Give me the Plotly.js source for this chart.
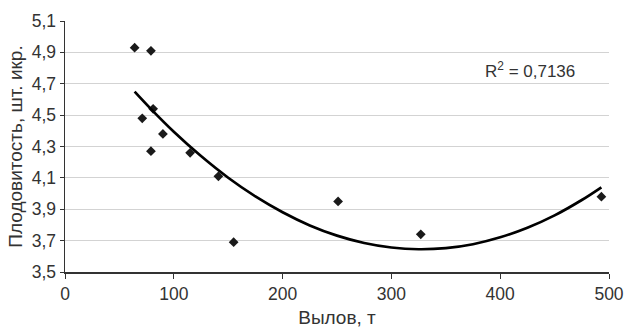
<!DOCTYPE html>
<html>
<head>
<meta charset="utf-8">
<script src="https://cdn.plot.ly/plotly-3.0.1.min.js"></script>
<style>html,body{margin:0;padding:0;background:#fff;}#chart{width:626px;height:329px;}</style>
</head>
<body>
<div id="chart"></div>
<script>
// Observed points: catch (t) vs fecundity
const catchX = [64, 79, 81, 71, 90, 79, 115, 141, 155, 251, 327, 493];
const fecundity = [4.93, 4.91, 4.54, 4.48, 4.38, 4.27, 4.26, 4.11, 3.69, 3.95, 3.74, 3.98];
// Polynomial trend line
const trendX = [64, 80, 100, 125, 150, 175, 200, 225, 250, 275, 300, 325, 350, 375, 400, 425, 450, 475, 493];
const trendY = [4.650, 4.532, 4.394, 4.239, 4.101, 3.982, 3.881, 3.797, 3.732, 3.685, 3.656, 3.645, 3.652, 3.677, 3.721, 3.782, 3.861, 3.959, 4.040];
const yTicks = [3.5, 3.7, 3.9, 4.1, 4.3, 4.5, 4.7, 4.9, 5.1];
const xTicks = [0, 100, 200, 300, 400, 500];
const r2Text = "R<sup>2</sup> = 0,7136";

const fam = "Liberation Sans, Arial, sans-serif";
const tickFont = {family: fam, size: 17.5, color: "#333"};
const titleFont = {family: fam, size: 19, color: "#333"};

Plotly.newPlot("chart", [
  {x: catchX, y: fecundity, type: "scatter", mode: "markers",
   marker: {symbol: "diamond", size: 7.5, color: "#1a1a1a"}, hoverinfo: "skip"},
  {x: trendX, y: trendY, type: "scatter", mode: "lines",
   line: {color: "#000", width: 2.7, shape: "spline"}, hoverinfo: "skip"}
], {
  width: 626, height: 329,
  margin: {l: 65, r: 17, t: 21, b: 57},
  paper_bgcolor: "#fff", plot_bgcolor: "#fff",
  showlegend: false,
  separators: ", ",
  font: tickFont,
  xaxis: {range: [0, 500], tickvals: xTicks, ticks: "outside", ticklen: 5, tickcolor: "#333",
          showgrid: false, zeroline: false, showline: true, linecolor: "#333", linewidth: 1.5,
          tickfont: tickFont, title: {text: "Вылов, т", font: titleFont, standoff: 8}},
  yaxis: {range: [3.5, 5.1], tickvals: yTicks, tickformat: ".1f", ticks: "outside", ticklen: 4, tickcolor: "#333",
          showgrid: true, gridcolor: "#d3d3d3", gridwidth: 1, zeroline: false, showline: true,
          linecolor: "#333", linewidth: 1.5, tickfont: tickFont,
          title: {text: "Плодовитость, шт. икр.", font: titleFont, standoff: 4}},
  annotations: [{x: 384, y: 4.79, xref: "x", yref: "y", text: r2Text, showarrow: false,
                 xanchor: "left", yanchor: "middle", font: {family: fam, size: 17, color: "#333"}}]
}, {staticPlot: true, displayModeBar: false});
</script>
</body>
</html>
